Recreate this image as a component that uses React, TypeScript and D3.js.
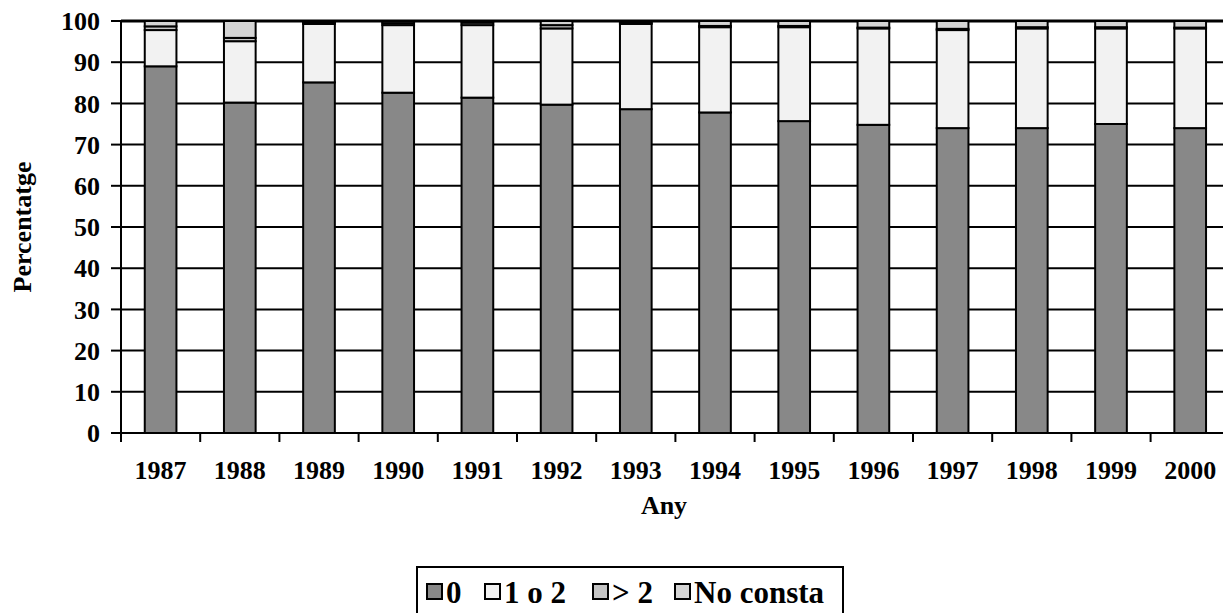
import React from "react";
import * as d3 from "d3";

const years = ["1987","1988","1989","1990","1991","1992","1993","1994","1995","1996","1997","1998","1999","2000"];
const zero = [89.0, 80.2, 85.1, 82.6, 81.4, 79.7, 78.6, 77.8, 75.7, 74.8, 74.0, 74.0, 75.0, 74.0];
const oneTwo = [8.8, 14.9, 14.2, 16.4, 17.6, 18.5, 20.7, 20.7, 22.8, 23.4, 23.8, 24.2, 23.2, 24.2];
const moreTwo = [0.9, 0.8, 0.3, 0.5, 0.6, 0.8, 0.3, 0.3, 0.3, 0.2, 0.3, 0.3, 0.3, 0.2];
const noConsta = [1.3, 4.1, 0.4, 0.5, 0.4, 1.0, 0.4, 1.2, 1.2, 1.6, 1.9, 1.5, 1.5, 1.6];
const seriesNames = ["0", "1 o 2", "> 2", "No consta"];
const yTicks = [0, 10, 20, 30, 40, 50, 60, 70, 80, 90, 100];

const colors = ["#888888", "#f2f2f2", "#c4c4c4", "#d4d4d4"];

export default function App() {
  const W = 1223, H = 613;
  const left = 121, top = 21, bottom = 433;
  const band = 79.2;
  const right = left + band * years.length;
  const font = "Liberation Serif, Tinos, Times New Roman, Noto Serif, DejaVu Serif, serif";
  const ts = { fontFamily: font, fontWeight: 700 as const };

  const x = d3.scaleBand<string>().domain(years).range([left, right]).paddingInner(0.6).paddingOuter(0.3);
  const xb = d3.scaleBand<string>().domain(years).range([left, right]);
  const y = d3.scaleLinear().domain([0, 100]).range([bottom, top]);

  const rows = years.map((yr, i) => ({ year: yr, "0": zero[i], "1 o 2": oneTwo[i], "> 2": moreTwo[i], "No consta": noConsta[i] }));
  const stack = d3.stack<any>().keys(seriesNames)(rows);

  const legendItems = [
    { name: "0", sx: 427 },
    { name: "1 o 2", sx: 485 },
    { name: "> 2", sx: 593 },
    { name: "No consta", sx: 675 },
  ];

  return (
    <svg width={W} height={H} style={{ position: "absolute", left: 0, top: 0, background: "#fff" }}>
      {yTicks.filter(t => t > 0).map(t => (
        <line key={t} x1={left} x2={right} y1={y(t)} y2={y(t)} stroke="#000" strokeWidth={t === 100 ? 3 : 2} />
      ))}
      {stack.map((s, si) => (
        <g key={si}>
          {s.map((d, i) => (
            <rect key={i} x={x(years[i])} width={x.bandwidth()} y={y(d[1])} height={Math.max(0, y(d[0]) - y(d[1]))}
              fill={colors[si]} stroke="#000" strokeWidth={2} />
          ))}
        </g>
      ))}
      <line x1={left} x2={left} y1={top} y2={bottom} stroke="#000" strokeWidth={2} />
      <line x1={left - 2} x2={right} y1={bottom} y2={bottom} stroke="#000" strokeWidth={2} />
      {yTicks.map(t => (
        <g key={t}>
          <line x1={left - 10} x2={left} y1={y(t)} y2={y(t)} stroke="#000" strokeWidth={2} />
          <text x={left - 21} y={y(t)} dy="0.35em" textAnchor="end" style={{ ...ts, fontSize: 26 }}>{t}</text>
        </g>
      ))}
      {years.map((yr) => (
        <g key={yr}>
          <line x1={xb(yr)!} x2={xb(yr)!} y1={bottom} y2={bottom + 9} stroke="#000" strokeWidth={2} />
          <text x={xb(yr)! + band / 2} y={479} textAnchor="middle" style={{ ...ts, fontSize: 26 }}>{yr}</text>
        </g>
      ))}
      <text x={664} y={514} textAnchor="middle" style={{ ...ts, fontSize: 26 }}>Any</text>
      <text transform={`translate(31, ${(top + bottom) / 2}) rotate(-90)`} textAnchor="middle" style={{ ...ts, fontSize: 26 }}>Percentatge</text>
      <rect x={417} y={567} width={426} height={60} fill="#fff" stroke="#000" strokeWidth={2} />
      {legendItems.map((it, i) => (
        <g key={it.name}>
          <rect x={it.sx} y={584} width={15} height={15} fill={colors[i]} stroke="#000" strokeWidth={2} />
          <text x={it.sx + 19} y={603} style={{ ...ts, fontSize: 31 }}>{it.name}</text>
        </g>
      ))}
    </svg>
  );
}
